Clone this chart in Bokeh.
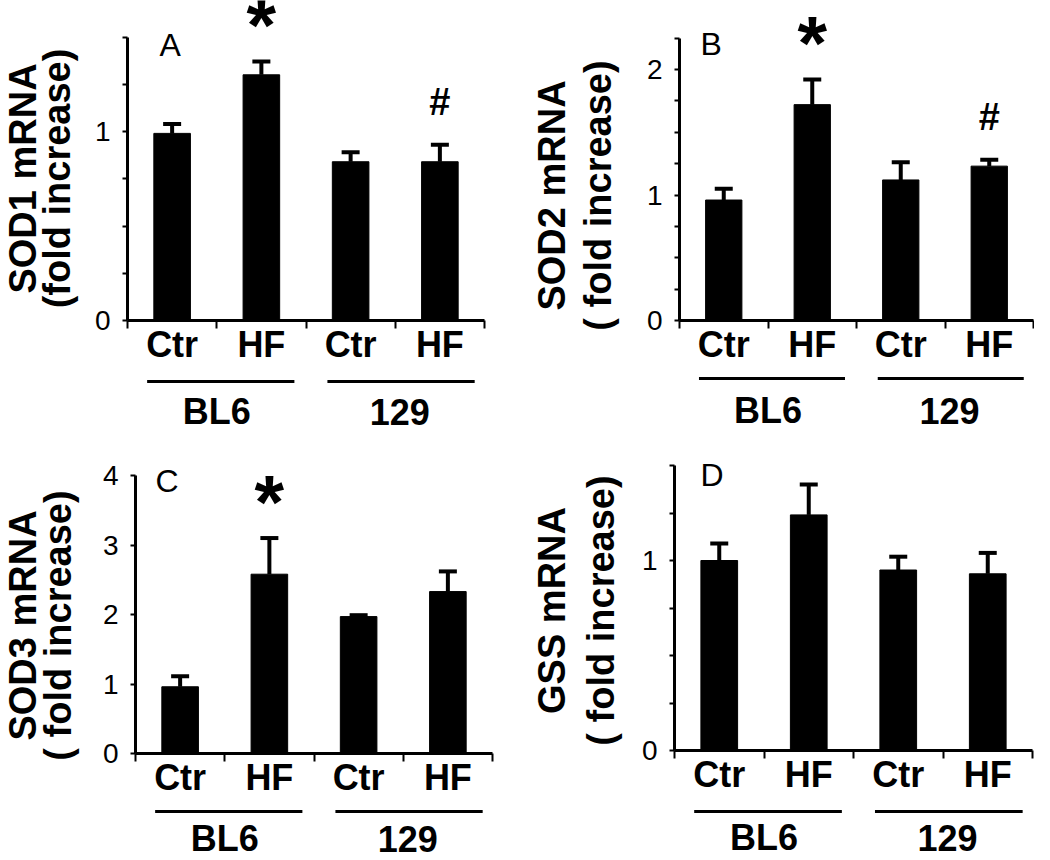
import math
from bokeh.plotting import figure
from bokeh.models import (Range1d, LinearAxis, FixedTicker, ColumnDataSource, Whisker, TeeHead)
from bokeh.layouts import column, row
from bokeh.core.properties import value, field
from bokeh.embed import file_html
from bokeh.resources import INLINE

# ---------------- data ----------------
conditions = ["Ctr", "HF", "Ctr", "HF"]
groups = ["BL6", "129"]
panel_letters = ["A", "B", "C", "D"]
gene_labels = ["SOD1 mRNA", "SOD2 mRNA", "SOD3 mRNA", "GSS mRNA"]
unit_labels = ["(fold increase)", "( fold increase)", "( fold increase)", "( fold increase)"]

sod1_mean = [0.99, 1.30, 0.84, 0.84]
sod1_sem = [0.05, 0.07, 0.05, 0.09]
sod1_sig = ["", "*", "", "#"]

sod2_mean = [0.96, 1.72, 1.12, 1.23]
sod2_sem = [0.09, 0.20, 0.14, 0.05]
sod2_sig = ["", "*", "", "#"]

sod3_mean = [0.96, 2.58, 1.97, 2.33]
sod3_sem = [0.15, 0.52, 0.02, 0.29]
sod3_sig = ["", "*", "", ""]

gss_mean = [1.00, 1.24, 0.95, 0.93]
gss_sem = [0.09, 0.16, 0.07, 0.11]
gss_sig = ["", "", "", ""]

sod1_ticks = [0, 0.25, 0.5, 0.75, 1, 1.25, 1.5]
sod2_ticks = [0, 0.25, 0.5, 0.75, 1, 1.25, 1.5, 1.75, 2, 2.25]
sod3_ticks = [0, 1, 2, 3, 4]
gss_ticks = [0, 0.25, 0.5, 0.75, 1, 1.25, 1.5]

sod1_labeled = [0, 1]
sod2_labeled = [0, 1, 2]
sod3_labeled = [0, 1, 2, 3, 4]
gss_labeled = [0, 1]

FONT = "Liberation Sans"
FIG_W, FIG_H = 517, 426

# Layout per panel (canvas pixels): axis x, px per x unit, zero y, px per y unit,
# and pixel placements of the decorations relative to the axes.
layouts = [
    dict(ax=127, ppx=89.25, zy=320, ppu=189.0, gene_px=-105, unit_px=-71, lab_cy=142,
         letter=(32, 276), line_px=61, grp_px=91),
    dict(ax=162, ppx=88.5, zy=320, ppu=125.5, gene_px=-128, unit_px=-82, lab_cy=125,
         letter=(21, 277), line_px=58, grp_px=90),
    dict(ax=135, ppx=89.25, zy=327, ppu=69.5, gene_px=-113, unit_px=-78, lab_cy=128,
         letter=(20, 273), line_px=58, grp_px=85),
    dict(ax=157, ppx=89.5, zy=324, ppu=190.0, gene_px=-123, unit_px=-74, lab_cy=140,
         letter=(26, 276), line_px=61, grp_px=87),
]


def make_panel(i, means, sems, sigs, ticks, labeled):
    L = layouts[i]
    ppx, ppu = L["ppx"], L["ppu"]
    x_range = Range1d(-L["ax"] / ppx, (FIG_W - L["ax"]) / ppx)
    y_range = Range1d(-(FIG_H - L["zy"]) / ppu, L["zy"] / ppu)
    x_pos = [k + 0.5 for k in range(len(means))]
    top = ticks[-1]

    p = figure(width=FIG_W, height=FIG_H, x_range=x_range, y_range=y_range,
               x_axis_location=None, y_axis_location=None,
               min_border_left=0, min_border_right=0, min_border_top=0, min_border_bottom=0,
               output_backend="svg", toolbar_location=None)
    p.outline_line_color = None
    p.xgrid.visible = False
    p.ygrid.visible = False
    p.background_fill_color = "white"
    p.border_fill_color = "white"

    # y axis at x = 0
    yax = LinearAxis(fixed_location=0, ticker=FixedTicker(ticks=ticks), bounds=(0, top))
    yax.major_label_overrides = {t: "" for t in ticks if t not in labeled}
    yax.axis_line_width = 3
    yax.axis_line_color = "black"
    yax.major_tick_line_width = 2
    yax.major_tick_out = 5
    yax.major_tick_in = 0
    yax.minor_tick_out = 0
    yax.minor_tick_in = 0
    yax.major_label_text_font = FONT
    yax.major_label_text_font_size = "28px"
    yax.major_label_text_color = "black"
    yax.major_label_standoff = 12
    p.add_layout(yax, "left")

    # x axis at y = 0
    xax = LinearAxis(fixed_location=0,
                     ticker=FixedTicker(ticks=x_pos, minor_ticks=[0, 1, 2, 3, 4]),
                     bounds=(0, 4))
    xax.major_label_overrides = dict(zip(x_pos, conditions))
    xax.axis_line_width = 3
    xax.axis_line_color = "black"
    xax.major_tick_out = 0
    xax.major_tick_in = 0
    xax.minor_tick_out = 8
    xax.minor_tick_in = 0
    xax.minor_tick_line_width = 2
    xax.minor_tick_line_color = "black"
    xax.major_label_text_font = FONT
    xax.major_label_text_font_size = "36px"
    xax.major_label_text_font_style = "bold"
    xax.major_label_text_color = "black"
    xax.major_label_standoff = -5
    p.add_layout(xax, "below")

    # two-line rotated y label
    p.text(x=[L["gene_px"] / ppx, L["unit_px"] / ppx],
           y=[L["lab_cy"] / ppu, L["lab_cy"] / ppu],
           text=[gene_labels[i], unit_labels[i]], angle=math.pi / 2,
           text_align="center", text_baseline="alphabetic",
           text_font=value(FONT), text_font_size="38px", text_font_style="bold",
           text_color="black")

    # bars + error bars
    src = ColumnDataSource(dict(x=x_pos, top=means,
                                upper=[m + s for m, s in zip(means, sems)]))
    p.vbar(x="x", top="top", bottom=0, width=0.41, source=src,
           fill_color="black", line_color="black")
    p.add_layout(Whisker(source=src, base="x", lower="top", upper="upper",
                         upper_head=TeeHead(size=18, line_width=4, line_color="black"),
                         lower_head=None, line_width=4, line_color="black"))

    # significance marks
    mx, my, mt, ms = [], [], [], []
    for x, m, s, g in zip(x_pos, means, sems, sigs):
        if g == "*":
            mx.append(x); my.append(m + s + 37 / ppu); mt.append(g); ms.append("76px")
        elif g == "#":
            mx.append(x); my.append(m + s + 43 / ppu); mt.append(g); ms.append("38px")
    if mx:
        sig_src = ColumnDataSource(dict(x=mx, y=my, text=mt, size=ms))
        p.text(x="x", y="y", text="text", source=sig_src, text_font_size=field("size"),
               text_align="center", text_baseline="alphabetic",
               text_font=value(FONT), text_font_style="bold", text_color="black")

    # panel letter
    p.text(x=[L["letter"][0] / ppx], y=[L["letter"][1] / ppu], text=[panel_letters[i]],
           text_font=value(FONT), text_font_size="32px", text_align="left",
           text_baseline="alphabetic", text_color="black")

    # group lines and labels
    line_y = -L["line_px"] / ppu
    p.segment(x0=[0.22, 2.24], y0=[line_y, line_y], x1=[1.87, 3.89], y1=[line_y, line_y],
              line_width=3, line_color="black")
    grp_y = -L["grp_px"] / ppu
    p.text(x=[1.0, 3.05], y=[grp_y, grp_y], text=groups,
           text_font=value(FONT), text_font_size="36px", text_font_style="bold",
           text_align="center", text_baseline="alphabetic", text_color="black")
    return p


pa = make_panel(0, sod1_mean, sod1_sem, sod1_sig, sod1_ticks, sod1_labeled)
pb = make_panel(1, sod2_mean, sod2_sem, sod2_sig, sod2_ticks, sod2_labeled)
pc = make_panel(2, sod3_mean, sod3_sem, sod3_sig, sod3_ticks, sod3_labeled)
pd = make_panel(3, gss_mean, gss_sem, gss_sig, gss_ticks, gss_labeled)

layout = column(row(pa, pb, spacing=0), row(pc, pd, spacing=0), spacing=0)
open("out.html", "w").write(file_html(layout, INLINE))
